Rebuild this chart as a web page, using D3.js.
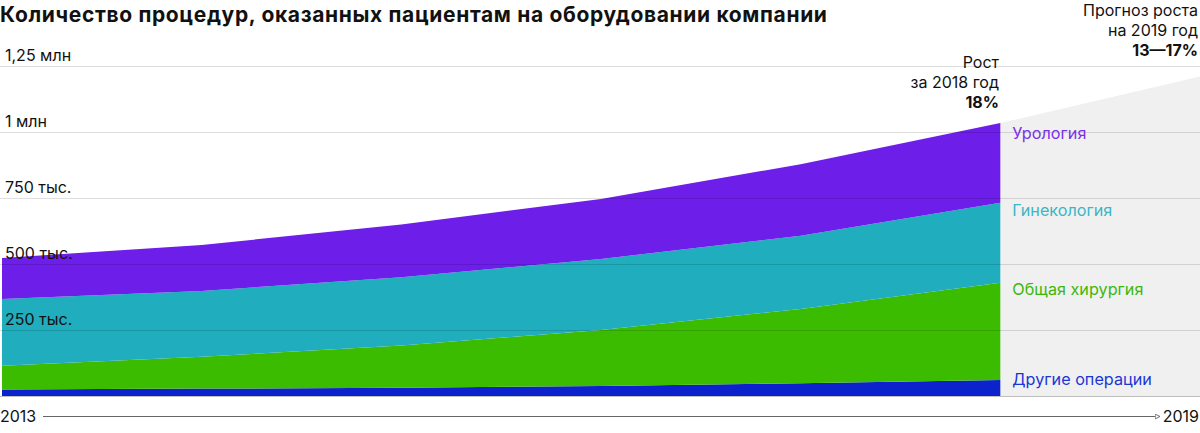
<!DOCTYPE html>
<html>
<head>
<meta charset="utf-8">
<script src="https://cdn.jsdelivr.net/npm/d3@7"></script>
<style>
  body { margin: 0; background: #fff; }
  svg { display: block; font-family: Inter, "Noto Sans", sans-serif; }
</style>
</head>
<body>
<svg id="chart" width="1200" height="433"></svg>
<script>
// years on the x axis
const years = [2013, 2014, 2015, 2016, 2017, 2018];
// thousands of procedures per year, by category
const other = [25, 28, 31, 38, 48, 61];
const surgery = [90, 121, 160, 212, 282, 368];
const gynecology = [252, 249, 259, 269, 277, 303];
const urology = [156, 174, 200, 227, 271, 302];
// forecast for 2019 (upper bound, thousands)
const forecastYear = 2019;
const forecastTotal = 1210;

const seriesKeys = ["other", "surgery", "gynecology", "urology"];
const seriesNames = ["Другие операции", "Общая хирургия", "Гинекология", "Урология"];
const yTicks = [250, 500, 750, 1000, 1250];
const yTickLabels = ["250 тыс.", "500 тыс.", "750 тыс.", "1 млн", "1,25 млн"];

const fills = { other: "#0b22cc", surgery: "#3bbc00", gynecology: "#20adbd", urology: "#6d1ee9" };
const labelColors = { other: "#1a36d6", surgery: "#3bb80a", gynecology: "#3ab6c4", urology: "#7a30ea" };

const svg = d3.select("#chart");

const x = d3.scaleLinear().domain([2013, 2019]).range([2, 1200]);
const y = d3.scaleLinear().domain([0, 1250]).range([396, 66]);

// table for the stack layout
const table = years.map((yr, i) => ({
    year: yr,
    other: other[i],
    surgery: surgery[i],
    gynecology: gynecology[i],
    urology: urology[i],
}));
const stacked = d3.stack().keys(seriesKeys)(table);
const lastTotal = d3.sum(seriesKeys, k => table[table.length - 1][k]);

// grey forecast wedge
const lastYear = years[years.length - 1];
svg.append("path")
    .attr("fill", "#f0f0f0")
    .attr("d", d3.area()
        .x(d => x(d[0]))
        .y0(y(0))
        .y1(d => y(d[1]))([[lastYear, lastTotal], [forecastYear, forecastTotal]]));

// stacked areas
const area = d3.area()
    .x(d => x(d.data.year))
    .y0(d => y(d[0]))
    .y1(d => y(d[1]));

svg.append("g")
    .selectAll("path")
    .data(stacked)
    .join("path")
    .attr("fill", d => fills[d.key])
    .attr("d", area);

// gridlines, drawn over the areas
svg.append("g")
    .selectAll("line")
    .data(yTicks)
    .join("line")
    .attr("x1", 0)
    .attr("x2", 1200)
    .attr("y1", d => Math.round(y(d)) + 0.5)
    .attr("y2", d => Math.round(y(d)) + 0.5)
    .attr("stroke", "rgba(0,0,0,0.13)");

svg.append("line")
    .attr("x1", 0).attr("x2", 1200)
    .attr("y1", y(0) + 0.5).attr("y2", y(0) + 0.5)
    .attr("stroke", "rgba(0,0,0,0.25)");

// y tick labels
svg.append("g")
    .selectAll("text")
    .data(yTicks)
    .join("text")
    .attr("x", 5)
    .attr("y", d => y(d) - 5)
    .attr("font-size", 16)
    .attr("fill", "#111")
    .text((d, i) => yTickLabels[i]);

// series labels at the right edge of the areas
const labelY = [385, 295, 216, 139];
svg.append("g")
    .selectAll("text")
    .data(stacked)
    .join("text")
    .attr("x", x(lastYear) + 12)
    .attr("y", (d, i) => labelY[i])
    .attr("font-size", 16.2)
    .attr("fill", d => labelColors[d.key])
    .text((d, i) => seriesNames[i]);

// x axis with arrow
svg.append("defs").append("marker")
    .attr("id", "arrow")
    .attr("viewBox", "0 0 10 10")
    .attr("refX", 9).attr("refY", 5)
    .attr("markerWidth", 6).attr("markerHeight", 6)
    .attr("orient", "auto")
    .append("path")
    .attr("d", "M1,1 L9,5 L1,9 Z")
    .attr("fill", "#fff")
    .attr("stroke", "#666")
    .attr("stroke-width", 1.5);

svg.append("line")
    .attr("x1", 43).attr("x2", 1160)
    .attr("y1", 416.5).attr("y2", 416.5)
    .attr("stroke", "#666")
    .attr("marker-end", "url(#arrow)");

svg.append("text")
    .attr("x", 0).attr("y", 422)
    .attr("font-size", 16).attr("fill", "#111")
    .text(years[0]);
svg.append("text")
    .attr("x", 1199).attr("y", 422)
    .attr("text-anchor", "end")
    .attr("font-size", 16).attr("fill", "#111")
    .text(forecastYear);

// title
svg.append("text")
    .attr("x", 0).attr("y", 22)
    .attr("font-size", 21)
    .attr("font-weight", 700)
    .attr("letter-spacing", 0.65)
    .attr("fill", "#111")
    .text("Количество процедур, оказанных пациентам на оборудовании компании");

// annotations
function note(xPos, yPos, lines) {
    const t = svg.append("text")
        .attr("text-anchor", "end")
        .attr("font-size", 16)
        .attr("fill", "#111");
    lines.forEach((ln, i) => {
        t.append("tspan")
            .attr("x", xPos)
            .attr("y", yPos + i * 20)
            .attr("font-weight", i === lines.length - 1 ? 700 : 400)
            .text(ln);
    });
}
note(999, 68, ["Рост", "за 2018 год", "18%"]);
note(1198, 16, ["Прогноз роста", "на 2019 год", "13—17%"]);
</script>
</body>
</html>
